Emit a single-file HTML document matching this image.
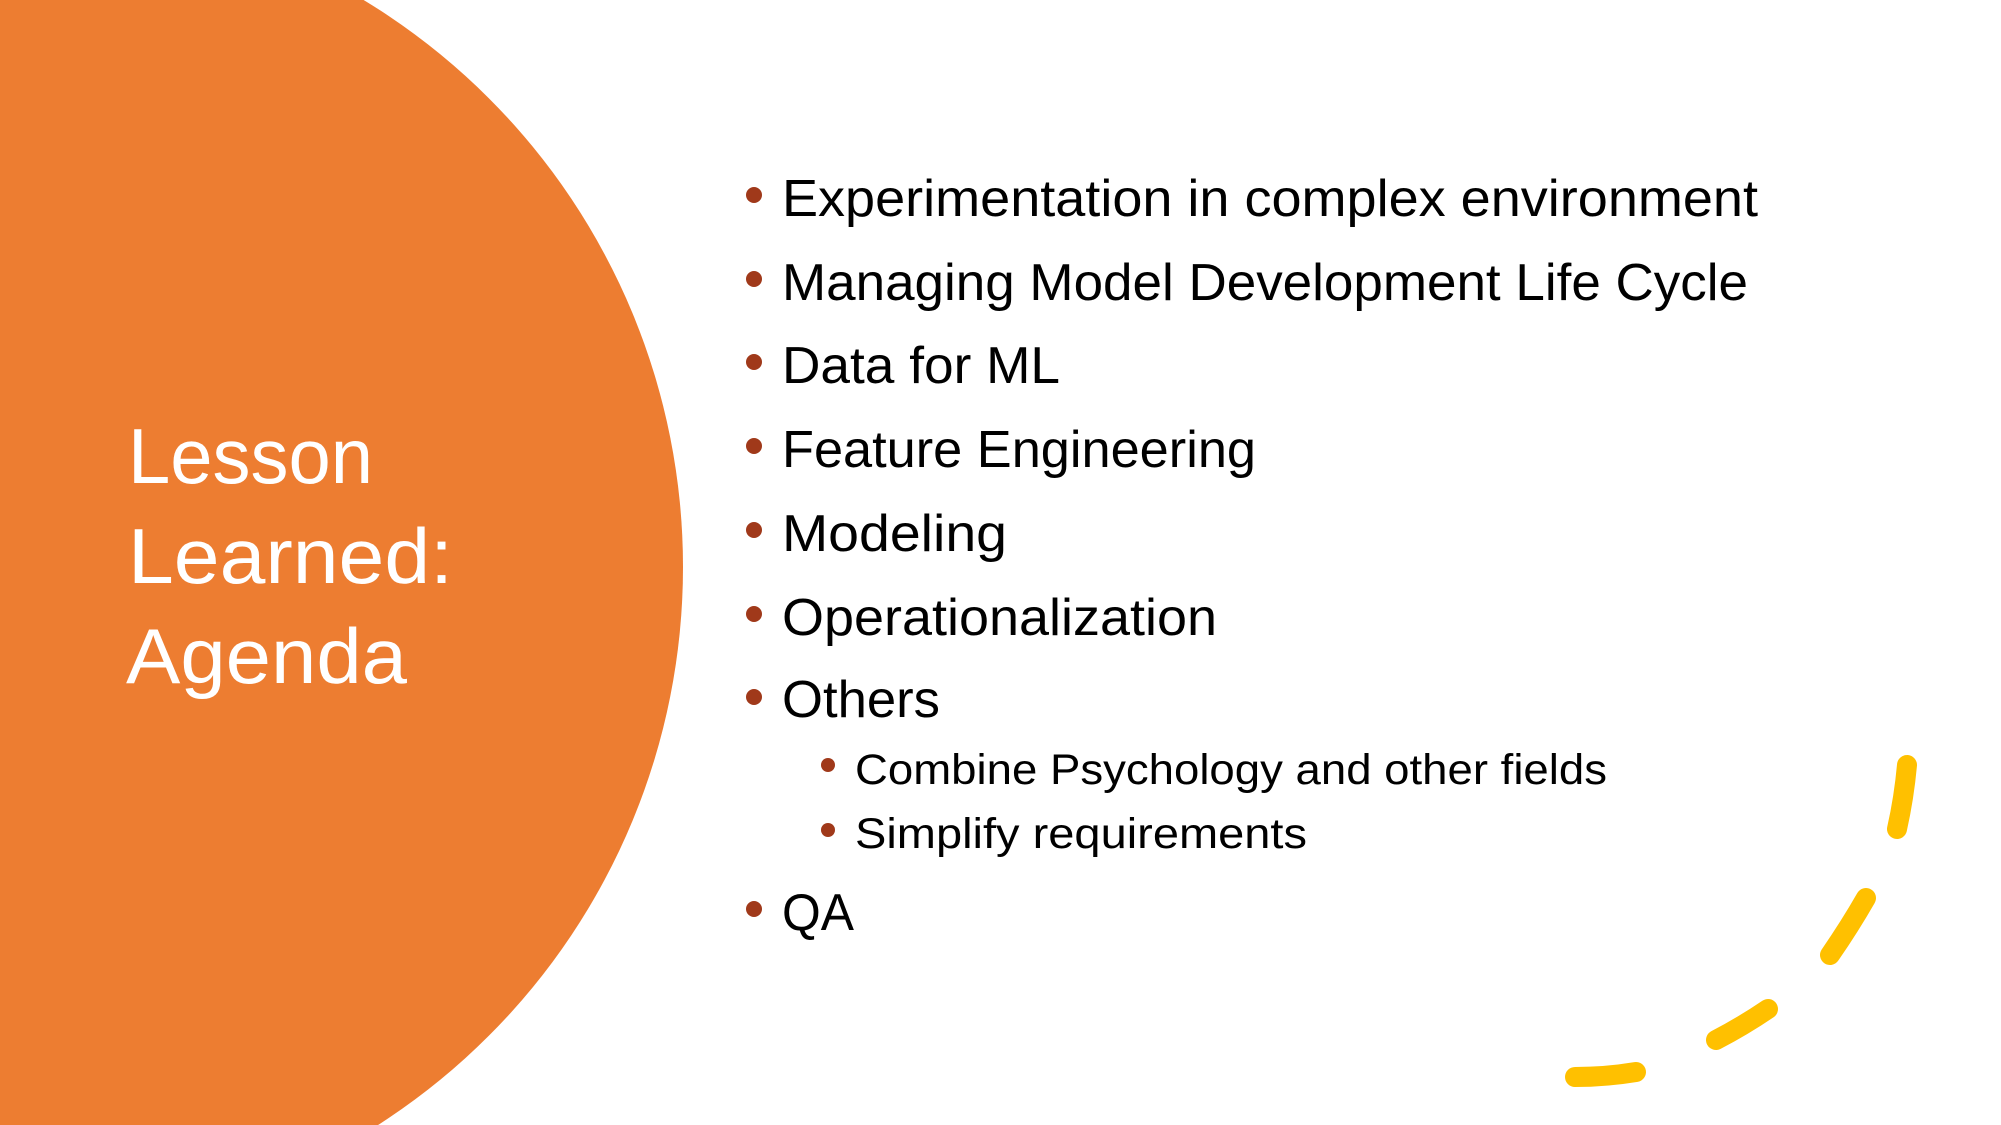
<!DOCTYPE html>
<html><head><meta charset="utf-8"><style>
html,body{margin:0;padding:0;background:#fff;width:2001px;height:1125px;overflow:hidden}
svg{display:block}
text{font-family:"Liberation Sans",sans-serif}
</style></head><body>
<svg width="2001" height="1125" viewBox="0 0 2001 1125" xmlns="http://www.w3.org/2000/svg">
<rect width="2001" height="1125" fill="#fff"/>
<circle cx="20" cy="567" r="663" fill="#ED7D31"/>
<g fill="#fff" font-size="78">
<text x="128" y="483" textLength="245" lengthAdjust="spacingAndGlyphs">Lesson</text>
<text x="128" y="583" textLength="325" lengthAdjust="spacingAndGlyphs">Learned:</text>
<text x="126" y="683" textLength="281" lengthAdjust="spacingAndGlyphs">Agenda</text>
</g>
<g fill="#A0391A">
<circle cx="754" cy="195" r="8"/><circle cx="754" cy="279" r="8"/><circle cx="754" cy="362" r="8"/>
<circle cx="754" cy="446" r="8"/><circle cx="754" cy="530" r="8"/><circle cx="754" cy="614" r="8"/>
<circle cx="754" cy="697" r="8"/><circle cx="754" cy="909" r="8"/>
<circle cx="828" cy="765" r="7"/><circle cx="828" cy="830" r="7"/>
</g>
<g fill="#000" font-size="52">
<text x="782" y="216" textLength="976" lengthAdjust="spacingAndGlyphs">Experimentation in complex environment</text>
<text x="782" y="300" textLength="966" lengthAdjust="spacingAndGlyphs">Managing Model Development Life Cycle</text>
<text x="782" y="383" textLength="278" lengthAdjust="spacingAndGlyphs">Data for ML</text>
<text x="782" y="467" textLength="474" lengthAdjust="spacingAndGlyphs">Feature Engineering</text>
<text x="782" y="551" textLength="225" lengthAdjust="spacingAndGlyphs">Modeling</text>
<text x="782" y="635" textLength="435" lengthAdjust="spacingAndGlyphs">Operationalization</text>
<text x="782" y="717" textLength="158" lengthAdjust="spacingAndGlyphs">Others</text>
<text x="782" y="930" textLength="72" lengthAdjust="spacingAndGlyphs">QA</text>
</g>
<g fill="#000" font-size="43">
<text x="855" y="784" textLength="752" lengthAdjust="spacingAndGlyphs">Combine Psychology and other fields</text>
<text x="855" y="848" textLength="452" lengthAdjust="spacingAndGlyphs">Simplify requirements</text>
</g>
<g fill="none" stroke="#FFC000" stroke-width="20" stroke-linecap="round">
<path d="M1907 765 Q1904 798 1897 829"/>
<path d="M1866 898 Q1850 926 1830 955"/>
<path d="M1768 1009 Q1743 1026 1716 1040"/>
<path d="M1636 1072 Q1606 1077 1575 1077"/>
</g>
</svg>
</body></html>
